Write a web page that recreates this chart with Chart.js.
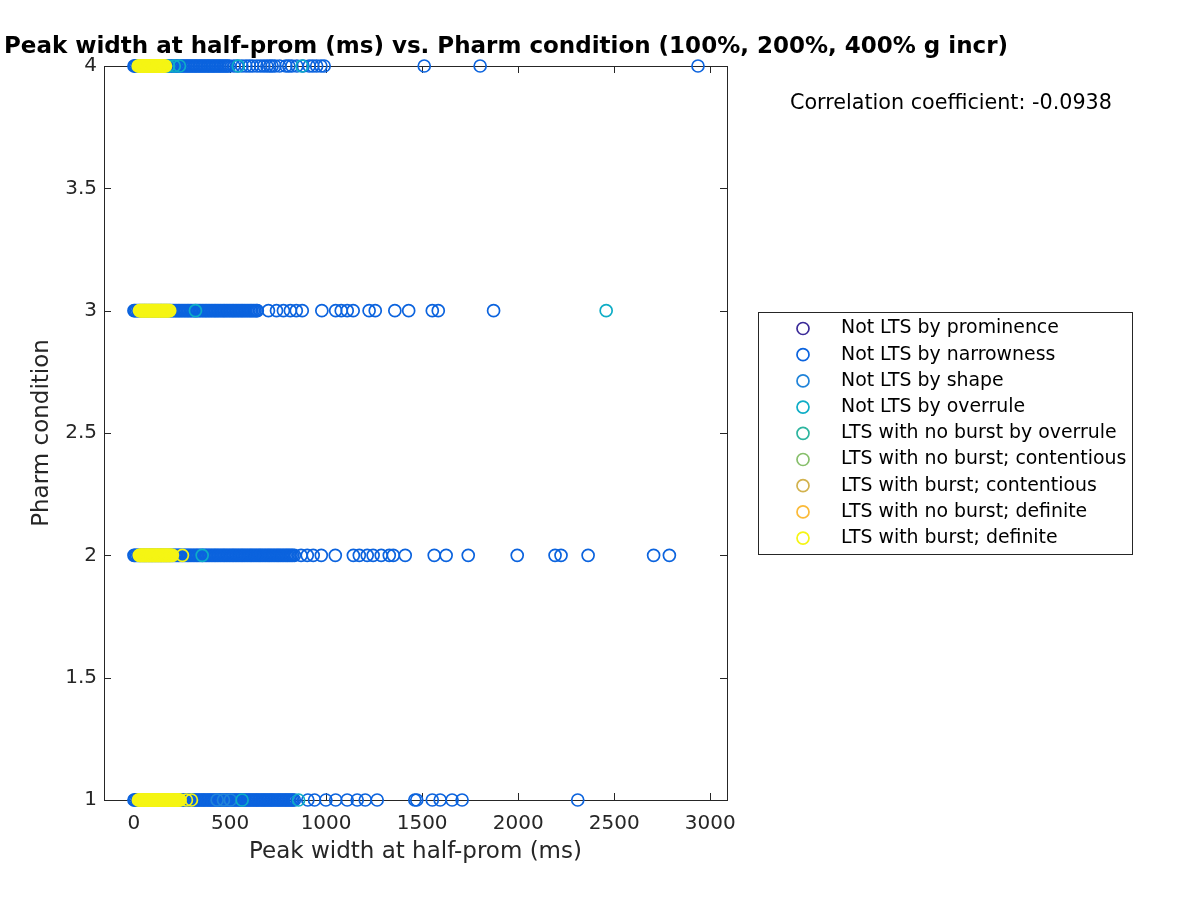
<!DOCTYPE html>
<html><head><meta charset="utf-8">
<script src="https://cdn.jsdelivr.net/npm/chart.js@4/dist/chart.umd.min.js"></script>
<style>html,body{margin:0;padding:0;background:#fff}canvas{display:block}</style>
</head><body>
<canvas id="c" width="1200" height="900"></canvas>
<script>
// ---------- DATA ----------
const categories = [
  "Not LTS by prominence",
  "Not LTS by narrowness",
  "Not LTS by shape",
  "Not LTS by overrule",
  "LTS with no burst by overrule",
  "LTS with no burst; contentious",
  "LTS with burst; contentious",
  "LTS with no burst; definite",
  "LTS with burst; definite"
];
const colors = ["#3b2a98","#0b63de","#1f83d9","#0eadc6","#2db59f","#87bf6b","#d2b24e","#fbba38","#f5f514"];
const xTicks = [0, 500, 1000, 1500, 2000, 2500, 3000];
const yTicks = [1, 1.5, 2, 2.5, 3, 3.5, 4];
const pharmLevels = [1, 2, 3, 4];
const correlationText = "Correlation coefficient: -0.0938";

// Peak widths (ms) per category, one array per pharm condition level
const narrow_p1 = [0,3,9,17,25,32,40,48,56,63,71,79,87,94,102,110,118,126,133,141,149,157,165,172,180,188,196,204,211,219,227,235,243,250,258,266,274,282,289,297,305,313,321,328,336,344,352,360,367,375,383,391,399,406,414,422,430,438,445,453,461,469,477,484,492,500,508,516,523,531,539,547,555,562,570,578,586,594,601,609,617,625,633,640,648,656,664,672,679,687,695,703,711,718,726,734,742,750,757,765,773,781,789,796,804,812,820,828,835,
  905,940,999,1050,1110,1162,1204,1266,1462,1472,1553,1594,1656,1708,2310];
const narrow_p2 = [0,5,12,20,27,35,43,51,58,66,74,82,90,97,105,113,121,129,137,144,152,160,168,176,184,191,199,207,215,223,231,238,246,254,262,270,278,285,293,301,309,317,325,332,340,348,356,364,372,379,387,395,403,411,419,426,434,442,450,458,466,473,481,489,497,505,513,520,528,536,544,552,560,567,575,583,591,599,607,614,622,630,638,646,654,661,669,677,685,693,701,708,716,724,732,740,748,755,763,771,779,787,795,802,810,818,826,835,
  870,902,933,975,1048,1142,1173,1214,1245,1287,1329,1350,1412,1563,1625,1740,1995,2192,2223,2364,2705,2787];
const narrow_p3 = [0,5,12,20,27,35,43,51,58,66,74,82,90,97,105,113,121,129,137,144,152,160,168,176,184,191,199,207,215,223,231,238,246,254,262,270,278,285,293,301,309,317,325,332,340,348,356,364,372,379,387,395,403,411,419,426,434,442,450,458,466,473,481,489,497,505,513,520,528,536,544,552,560,567,575,583,591,599,607,614,622,630,638,642,
  700,742,778,814,845,876,978,1050,1079,1110,1141,1224,1256,1358,1430,1553,1584,1872];
const narrow_p4 = [0,4,9,16,24,31,39,47,55,62,70,79,87,95,103,112,120,128,137,145,153,162,170,179,187,195,204,212,220,229,237,246,254,262,271,279,287,296,304,313,321,329,338,346,354,363,371,380,388,396,405,413,421,430,438,447,455,463,472,480,488,497,
  520,538,562,583,601,618,640,659,676,692,707,719,734,758,791,806,822,848,880,912,931,951,973,990,1511,1802,2936];
const shape_p1 = [433, 466, 502];
const overrule_p1 = [563, 857];
const overrule_p2 = [355];
const overrule_p3 = [320, 2458];
const overrule_p4 = [180, 210, 237, 543, 875];
const burstDef_p1 = [23,27,31,35,39,43,47,51,55,59,63,67,71,75,79,83,87,91,95,99,103,107,111,115,119,123,127,131,135,139,143,147,151,155,159,163,167,171,175,179,183,187,191,195,199,203,207,211,215,219,223,227,231,235,240,273,299];
const burstDef_p2 = [28,32,36,40,44,48,52,56,60,64,68,72,76,80,84,88,92,96,100,104,108,112,116,120,124,128,132,136,140,144,148,152,156,160,164,168,172,176,180,184,188,194,200,252];
const burstDef_p3 = [29,33,37,41,45,49,53,57,61,65,69,73,77,81,85,89,93,97,101,105,109,113,117,121,125,129,133,137,141,145,149,153,157,161,165,169,173,177,181,186];
const burstDef_p4 = [22,26,30,34,38,42,46,50,54,58,62,66,70,74,78,82,86,90,94,98,102,106,110,114,118,122,126,130,134,138,142,146,150,154,159,164];

const seriesRows = [
  [[], [], [], []],
  [narrow_p1, narrow_p2, narrow_p3, narrow_p4],
  [shape_p1, [], [], []],
  [overrule_p1, overrule_p2, overrule_p3, overrule_p4],
  [[], [], [], []],
  [[], [], [], []],
  [[], [], [], []],
  [[], [], [], []],
  [burstDef_p1, burstDef_p2, burstDef_p3, burstDef_p4]
];

// ---------- CHART ----------
const FONT = "'DejaVu Sans', 'Noto Sans', sans-serif";
const datasets = categories.map((name, i) => ({
  label: name,
  data: seriesRows[i].flatMap((arr, k) => arr.map(v => ({x: v, y: pharmLevels[k]}))),
  borderColor: colors[i],
  backgroundColor: 'rgba(0,0,0,0)',
  pointRadius: 6,
  pointHoverRadius: 6,
  pointBorderWidth: 1.7,
  showLine: false,
  clip: false,
  order: categories.length - i
}));

const decor = {
  id: 'decor',
  beforeDatasetsDraw(chart) {
    const {ctx, chartArea: a, scales: {x, y}} = chart;
    ctx.save();
    ctx.strokeStyle = '#262626';
    ctx.lineWidth = 1;
    ctx.strokeRect(Math.round(a.left) + 0.5, Math.round(a.top) + 0.5,
      Math.round(a.right - a.left), Math.round(a.bottom - a.top));
    const L = 7;
    ctx.beginPath();
    xTicks.forEach(v => {
      const px = Math.round(x.getPixelForValue(v)) + 0.5;
      ctx.moveTo(px, a.bottom); ctx.lineTo(px, a.bottom - L);
      ctx.moveTo(px, a.top); ctx.lineTo(px, a.top + L);
    });
    yTicks.forEach(v => {
      const py = Math.round(y.getPixelForValue(v)) + 0.5;
      ctx.moveTo(a.left, py); ctx.lineTo(a.left + L, py);
      ctx.moveTo(a.right, py); ctx.lineTo(a.right - L, py);
    });
    ctx.stroke();
    ctx.restore();
  },
  afterDraw(chart) {
    const {ctx, chartArea: a} = chart;
    ctx.save();
    // title
    ctx.fillStyle = '#000';
    ctx.font = "bold 23px " + FONT;
    ctx.textAlign = 'right';
    ctx.textBaseline = 'middle';
    ctx.fillText("Peak width at half-prom (ms) vs. Pharm condition (100%, 200%, 400% g incr)", 1008, 47);
    // axis titles
    ctx.fillStyle = '#262626';
    ctx.font = "23px " + FONT;
    ctx.textAlign = 'center';
    ctx.fillText("Peak width at half-prom (ms)", (a.left + a.right) / 2, 852);
    ctx.save();
    ctx.translate(42, (a.top + a.bottom) / 2);
    ctx.rotate(-Math.PI / 2);
    ctx.fillText("Pharm condition", 0, 0);
    ctx.restore();
    // correlation
    ctx.fillStyle = '#000';
    ctx.font = "20.7px " + FONT;
    ctx.textAlign = 'left';
    ctx.fillText(correlationText, 790, 104);
    // legend
    const bx = 758.5, by = 312.5, bw = 374, bh = 242;
    ctx.fillStyle = '#fff';
    ctx.fillRect(bx, by, bw, bh);
    ctx.strokeStyle = '#262626';
    ctx.lineWidth = 1;
    ctx.strokeRect(bx, by, bw, bh);
    ctx.font = "18.9px " + FONT;
    ctx.fillStyle = '#000';
    categories.forEach((name, i) => {
      const cy = 328.5 + i * 26.2;
      ctx.beginPath();
      ctx.arc(803, cy, 6, 0, Math.PI * 2);
      ctx.strokeStyle = colors[i];
      ctx.lineWidth = 1.7;
      ctx.stroke();
      ctx.fillText(name, 841, cy);
    });
    ctx.restore();
  }
};

new Chart(document.getElementById('c'), {
  type: 'scatter',
  data: { datasets },
  options: {
    responsive: false,
    animation: false,
    events: [],
    layout: { padding: { left: 0, top: 66, right: 473, bottom: 0 } },
    plugins: { legend: { display: false }, tooltip: { enabled: false }, title: { display: false } },
    scales: {
      x: {
        type: 'linear', min: -156, max: 3087,
        grid: { display: false }, border: { display: false },
        afterFit: s => { s.height = 100; },
        afterBuildTicks: s => { s.ticks = xTicks.map(v => ({value: v})); },
        ticks: { font: { family: FONT, size: 20 }, color: '#262626', padding: 4, maxRotation: 0, autoSkip: false,
                 callback: v => String(v) }
      },
      y: {
        type: 'linear', min: 1, max: 4,
        grid: { display: false }, border: { display: false },
        afterFit: s => { s.width = 104; },
        afterBuildTicks: s => { s.ticks = yTicks.map(v => ({value: v})); },
        ticks: { font: { family: FONT, size: 20 }, color: '#262626', padding: -1, autoSkip: false,
                 callback: v => String(v) }
      }
    }
  },
  plugins: [decor]
});
</script>
</body></html>
